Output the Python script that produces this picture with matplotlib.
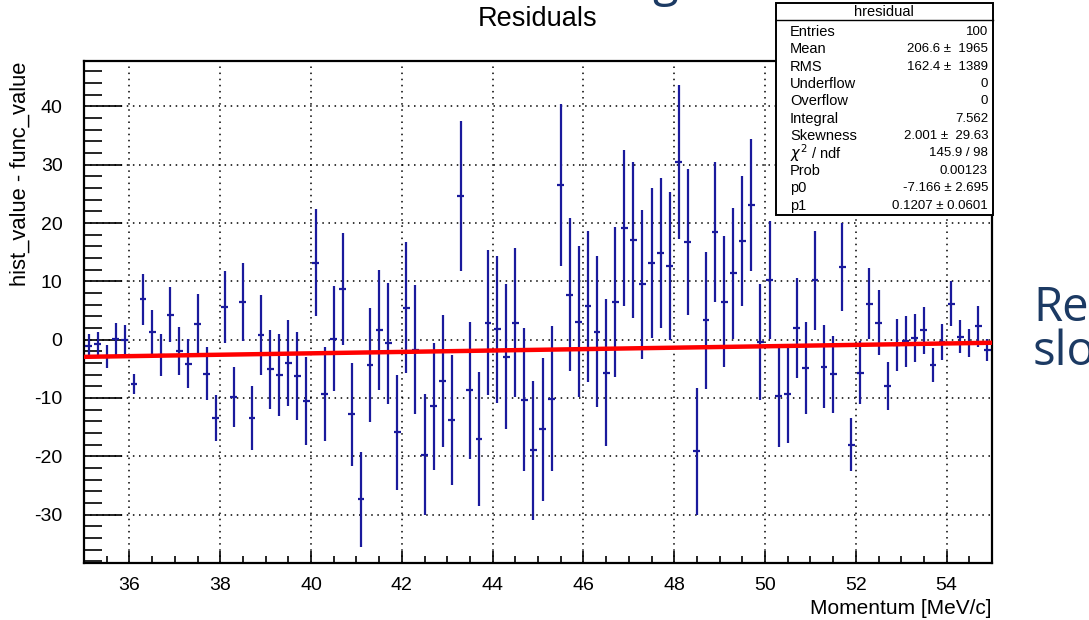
import numpy as np
import matplotlib
matplotlib.use("Agg")
import matplotlib.pyplot as plt
from matplotlib.ticker import MultipleLocator
from matplotlib.lines import Line2D
from matplotlib.patches import Rectangle

plt.rcParams['font.family'] = ['Liberation Sans', 'DejaVu Sans']
plt.rcParams['axes.unicode_minus'] = False

# ---------------- data ----------------
x_min, x_max = 35.0, 55.0
n_bins = 100
residuals = [
    -1.0, -0.75, -2.9, 0.1, -0.1, -7.6, 6.9, 1.3, -2.7, 4.3,
    -1.9, -4.1, 2.7, -5.8, -13.4, 5.6, -9.8, 6.5, -13.4, 0.8,
    -5.1, -6.1, -4.0, -6.2, -10.5, 13.2, -9.3, 0.2, 8.7, -12.8,
    -27.4, -4.3, 1.7, -0.6, -15.9, 5.5, -1.7, -19.7, -11.4, -7.1,
    -13.8, 24.6, -8.7, -17.0, 2.9, 1.8, -2.9, 2.9, -10.3, -19.0,
    -15.4, -10.1, 26.6, 7.7, 3.1, 5.7, 1.4, -5.7, 6.5, 19.1,
    17.1, 9.5, 13.2, 14.9, 12.6, 30.4, 16.7, -19.1, 3.3, 18.4,
    6.5, 11.4, 16.9, 23.1, -0.4, 10.2, -9.6, -9.3, 2.0, -4.9,
    10.2, -4.6, -5.9, 12.5, -18.0, -5.7, 6.2, 2.9, -7.9, -0.9,
    -0.3, 0.3, 1.6, -4.3, -0.4, 6.2, 0.5, -0.6, 2.3, -1.8,
]
errors = [
    2.0, 2.0, 2.0, 2.7, 2.6, 1.7, 4.3, 3.8, 3.6, 4.7,
    4.1, 4.2, 5.1, 4.5, 4.0, 6.1, 5.1, 6.7, 5.5, 6.9,
    6.8, 7.0, 7.4, 7.6, 7.6, 9.2, 8.1, 9.0, 9.6, 8.8,
    8.2, 9.8, 10.3, 10.4, 9.9, 11.2, 11.0, 10.4, 10.9, 11.3,
    11.1, 12.9, 11.8, 11.5, 12.4, 12.6, 12.4, 12.8, 12.3, 12.0,
    12.2, 12.4, 13.9, 13.1, 13.0, 13.0, 12.9, 12.6, 12.9, 13.4,
    13.3, 12.8, 12.9, 12.9, 12.7, 13.2, 12.5, 10.9, 11.7, 12.0,
    11.2, 11.2, 11.2, 11.3, 9.9, 10.1, 8.8, 8.4, 8.6, 7.9,
    8.5, 7.1, 6.6, 7.5, 4.6, 5.4, 6.1, 5.6, 4.1, 4.5,
    4.4, 4.1, 4.0, 2.9, 3.1, 3.9, 2.8, 2.4, 3.5, 1.9,
]
p0, p1 = -7.166, 0.1207

x_ticks = [36, 38, 40, 42, 44, 46, 48, 50, 52, 54]
y_ticks = [-30, -20, -10, 0, 10, 20, 30, 40]

stats_title = "hresidual"
stats_labels = ["Entries", "Mean", "RMS", "Underflow", "Overflow", "Integral",
                "Skewness", r"$\chi^{2}$ / ndf", "Prob", "p0", "p1"]
stats_values = ["100", "206.6 \u00b1  1965", "162.4 \u00b1  1389", "0", "0", "7.562",
                "2.001 \u00b1  29.63", "145.9 / 98", "0.00123", "-7.166 \u00b1 2.695",
                "0.1207 \u00b1 0.0601"]

# ---------------- figure ----------------
W, H = 1089, 620
fig = plt.figure(figsize=(W / 100, H / 100), dpi=100)

def fx(px):
    return px / W

def fy(py):
    return 1 - py / H

ax = fig.add_axes([fx(84), fy(563), fx(992) - fx(84), fy(61) - fy(563)])

edges = np.linspace(x_min, x_max, n_bins + 1)
centers = 0.5 * (edges[:-1] + edges[1:])
ax.errorbar(centers, residuals, yerr=errors, xerr=0.075, fmt='none',
            ecolor='#1a1a9c', elinewidth=1.6, capsize=0, zorder=3)

xf = np.array([x_min, x_max])
ax.plot(xf, p0 + p1 * xf, color='#ff0000', lw=3.2, zorder=4)

ax.set_xlim(x_min, x_max)
ax.set_ylim(-38.3, 47.8)
ax.set_xticks(x_ticks)
ax.set_yticks(y_ticks)
ax.xaxis.set_minor_locator(MultipleLocator(0.5))
ax.yaxis.set_minor_locator(MultipleLocator(2))
ax.tick_params(axis='both', which='both', direction='in', top=False, right=False,
               labelsize=14, color='black', width=1.2)
ax.tick_params(axis='y', which='major', length=27, pad=15.5)
ax.tick_params(axis='y', which='minor', length=13)
ax.tick_params(axis='x', which='major', length=9, pad=10)
ax.tick_params(axis='x', which='minor', length=5)
ax.grid(True, which='major', color='black', linestyle=(0, (1, 3)), linewidth=1.1)
for s in ax.spines.values():
    s.set_linewidth(1.6)
    s.set_color('black')

# titles
fig.text(fx(538), fy(19), "Residuals", ha='center', va='center', fontsize=19.5)
fig.text(fx(992), fy(608), "Momentum [MeV/c]", ha='right', va='center', fontsize=15)
fig.text(fx(20), fy(62), "hist_value - func_value", ha='center', va='top',
         rotation=90, fontsize=15.8)

# stats box
bx0, by0, bx1, by1 = 776, 3, 993, 215
fig.patches.append(Rectangle((fx(bx0), fy(by1)), fx(bx1) - fx(bx0), fy(by0) - fy(by1),
                             transform=fig.transFigure, facecolor='white',
                             edgecolor='black', linewidth=1.4, zorder=10))
fig.lines.append(Line2D([fx(bx0), fx(bx1)], [fy(20), fy(20)], transform=fig.transFigure,
                        color='black', linewidth=1.0, zorder=11))
fig.text(fx(884), fy(12), stats_title, ha='center', va='center', fontsize=10.5, zorder=12)
for k, (lab, val) in enumerate(zip(stats_labels, stats_values)):
    yy = 32 + k * 17.35
    fig.text(fx(790), fy(yy), lab, ha='left', va='center', fontsize=10.5, zorder=12)
    fig.text(fx(988), fy(yy), val, ha='right', va='center', fontsize=9.5, zorder=12)

# slide text fragments (cut off at the picture edge, as in the reference)
navy = '#1c3a63'
fig.text(fx(1033), fy(321), "Re", ha='left', va='baseline', fontsize=34,
         family='Open Sans', color=navy)
fig.text(fx(1033), fy(365), "slo", ha='left', va='baseline', fontsize=34,
         family='Open Sans', color=navy)
fig.text(fx(665), fy(-4), "g", ha='center', va='baseline', fontsize=34,
         family='Open Sans', color=navy)

fig.savefig("out.png", dpi=100, facecolor='white')
